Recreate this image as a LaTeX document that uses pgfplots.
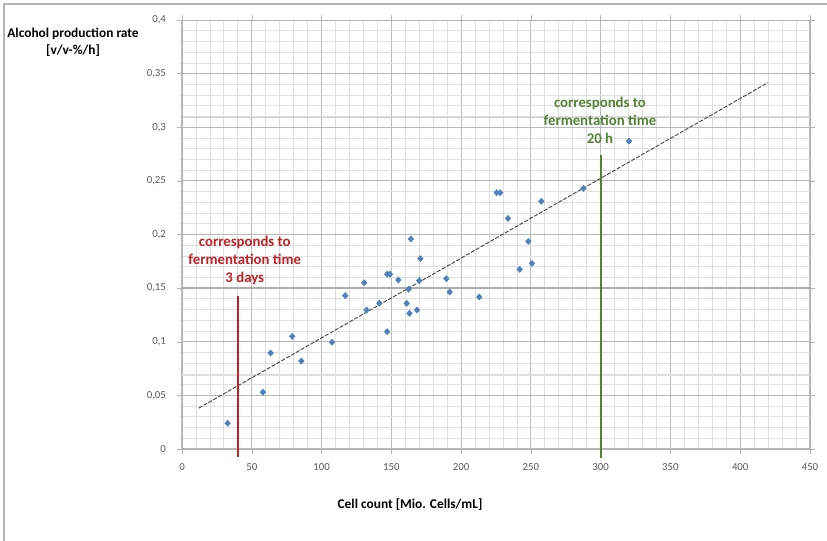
\documentclass[border=0pt]{standalone}
\usepackage{fontspec}
\setmainfont{Carlito}
\usepackage{pgfplots}
\pgfplotsset{compat=1.18}

\definecolor{ptblue}{RGB}{79,129,189}
\definecolor{annred}{RGB}{192,32,40}
\definecolor{anngreen}{RGB}{84,130,53}
\definecolor{ticktxt}{RGB}{89,89,89}

\begin{document}
\begin{tikzpicture}
% page frame, 827x541 px at 0.5pt per px
\path[use as bounding box] (0,0) rectangle (413.5pt,270.5pt);
\draw[gray!60, line width=0.6pt] (2pt,0) -- (2pt,268.5pt) -- (413.5pt,268.5pt);

\begin{axis}[
  at={(91pt,46pt)}, anchor=south west,
  scale only axis,
  width=314pt, height=214.5pt,
  xmin=0, xmax=450, ymin=0, ymax=0.4,
  xtick={0,50,...,450},
  ytick={0,0.05,...,0.4},
  minor x tick num=4, minor y tick num=4,
  grid=both,
  major grid style={gray!55, line width=0.5pt},
  minor grid style={gray!25, line width=0.4pt},
  axis line style={gray!60},
  tick style={gray!60},
  tick align=outside,
  major tick length=2.5pt,
  minor tick length=0pt,
  clip=false,
  /pgf/number format/use comma,
  /pgf/number format/assume math mode=true,
  yticklabel style={/pgf/number format/fixed, /pgf/number format/precision=2},
  tick label style={font=\fontsize{5.4}{6}\selectfont, text=ticktxt},
  xticklabel style={yshift=-1pt},
  yticklabel style={xshift=-2pt},
]
% scan artefacts: heavier horizontal rules
\addplot[gray!65, line width=1.1pt, forget plot] coordinates {(0,0.15) (450,0.15)};
\addplot[gray!40, line width=0.9pt, forget plot] coordinates {(0,0.309) (450,0.309)};
\addplot[gray!25, line width=0.9pt, forget plot] coordinates {(0,0.069) (450,0.069)};

% linear trend
\addplot[black!75, line width=0.45pt, dash pattern=on 2pt off 0.8pt] coordinates {
  (12,0.0381) (420,0.3417)
};

% measured points
\addplot[only marks, mark=diamond*, mark size=1.45pt, color=ptblue,
  mark options={xscale=1.2}] coordinates {
  (32.7,0.024) (58,0.053) (63.5,0.0895) (79,0.105) (85.5,0.082)
  (107.5,0.0995) (117,0.143) (130.6,0.155) (132.3,0.1296) (141.4,0.136)
  (147,0.1094) (147,0.163) (149,0.163) (155,0.1576) (161,0.1358)
  (162.4,0.149) (163,0.1265) (164,0.1958) (168.4,0.1296) (170,0.157)
  (170.8,0.1775) (189.4,0.1588) (191.8,0.1464) (213,0.1417)
  (225.5,0.239) (228,0.239) (233.6,0.215) (242,0.1675) (248.2,0.1936)
  (250.8,0.173) (257.5,0.231) (287.6,0.243) (320.3,0.287)
};

% reference lines
\addplot[annred, line width=1.1pt] coordinates {(40,-0.007) (40,0.143)};
\addplot[anngreen, line width=1.1pt] coordinates {(300,-0.008) (300,0.274)};

\node[text=annred, font=\bfseries\fontsize{7.4}{9}\selectfont, align=center]
  at (axis cs:45,0.176) {corresponds to\\fermentation time\\3 days};
\node[text=anngreen, font=\bfseries\fontsize{7.4}{9}\selectfont, align=center]
  at (axis cs:299.5,0.306) {corresponds to\\fermentation time\\20 h};
\end{axis}

\node[font=\bfseries\fontsize{6.7}{8.5}\selectfont, align=center] at (36.5pt,249.5pt)
  {Alcohol production rate\\{}[v/v-\%/h]};
\node[font=\bfseries\fontsize{6.7}{8.5}\selectfont] at (205pt,18pt)
  {Cell count [Mio. Cells/mL]};
\end{tikzpicture}
\end{document}
